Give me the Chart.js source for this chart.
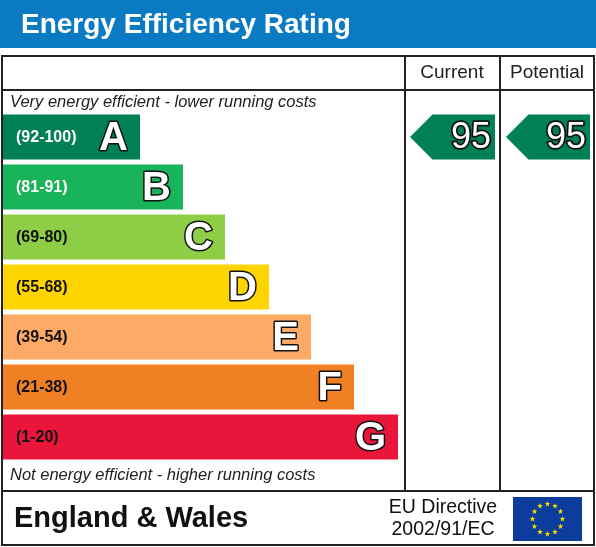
<!DOCTYPE html>
<html>
<head>
<meta charset="utf-8">
<script src="https://cdn.jsdelivr.net/npm/chart.js@4"></script>
<style>
  body { margin: 0; background: #fff; }
  #wrap { width: 596px; height: 547px; position: relative; }
</style>
</head>
<body>
<div id="wrap"><canvas id="epc"></canvas></div>
<script>
// --------------------------------------------------
const bands = ["A", "B", "C", "D", "E", "F", "G"];
const ranges = ["(92-100)", "(81-91)", "(69-80)", "(55-68)", "(39-54)", "(21-38)", "(1-20)"];
const lows = [92, 81, 69, 55, 39, 21, 1];
const barLength = [137, 180, 222, 266, 308, 351, 395];
const colors = ["#008054", "#19b459", "#8dce46", "#ffd500", "#fcaa65", "#ef8023", "#e9153b"];
const labelColors = ["#fff", "#fff", "#111", "#111", "#111", "#111", "#111"];
const currentRating = 95;
const potentialRating = 95;

function bandOf(r) {
  return lows.findIndex((l) => r >= l);
}

function outlined(ctx, text, x, y, font, lw) {
  ctx.font = font;
  ctx.lineJoin = "round";
  ctx.lineWidth = lw;
  ctx.strokeStyle = "#111";
  ctx.strokeText(text, x, y);
  ctx.fillStyle = "#fff";
  ctx.fillText(text, x, y);
}

function arrow(ctx, x0, x1, y, h, color, val) {
  ctx.fillStyle = color;
  ctx.beginPath();
  ctx.moveTo(x0, y);
  ctx.lineTo(x0 + h / 2, y - h / 2);
  ctx.lineTo(x1, y - h / 2);
  ctx.lineTo(x1, y + h / 2);
  ctx.lineTo(x0 + h / 2, y + h / 2);
  ctx.closePath();
  ctx.fill();
  ctx.textAlign = "right";
  ctx.textBaseline = "middle";
  outlined(ctx, String(val), x1 - 4, y + 1, "36px 'Liberation Sans', Arial, sans-serif", 3.5);
}

// --------------------------------------------------
const frame = {
  id: "frame",
  afterDraw(chart) {
    const ctx = chart.ctx;
    const ys = chart.scales.y;
    const xs = chart.scales.x;
    ctx.save();
    // title bar
    ctx.fillStyle = "#0a7ac2";
    ctx.fillRect(0, 0, 596, 48);
    ctx.fillStyle = "#fff";
    ctx.font = "bold 28px 'Liberation Sans', Arial, sans-serif";
    ctx.textBaseline = "middle";
    ctx.fillText("Energy Efficiency Rating", 21, 25);

    // grid lines
    ctx.strokeStyle = "#222";
    ctx.lineWidth = 2;
    ctx.strokeRect(2, 56, 592, 489);
    ctx.beginPath();
    ctx.moveTo(2, 90); ctx.lineTo(594, 90);
    ctx.moveTo(2, 491); ctx.lineTo(594, 491);
    ctx.moveTo(405, 56); ctx.lineTo(405, 491);
    ctx.moveTo(500, 56); ctx.lineTo(500, 491);
    ctx.stroke();

    ctx.fillStyle = "#222";
    ctx.font = "19px 'Liberation Sans', Arial, sans-serif";
    ctx.textAlign = "center";
    ctx.fillText("Current", 452, 73);
    ctx.fillText("Potential", 547, 73);

    ctx.textAlign = "left";
    ctx.font = "italic 16.5px 'Liberation Sans', Arial, sans-serif";
    ctx.fillText("Very energy efficient - lower running costs", 10, 102);
    ctx.fillText("Not energy efficient - higher running costs", 10, 475);

    // band labels and letters
    bands.forEach((b, i) => {
      const y = ys.getPixelForValue(i);
      ctx.textAlign = "left";
      ctx.fillStyle = labelColors[i];
      ctx.font = "bold 16px 'Liberation Sans', Arial, sans-serif";
      ctx.fillText(ranges[i], 16, y + 1);
      ctx.textAlign = "right";
      outlined(ctx, b, xs.getPixelForValue(barLength[i]) - 12, y + 2,
        "bold 40px 'Liberation Sans', Arial, sans-serif", 3);
    });

    // rating arrows
    const ci = bandOf(currentRating);
    const pi = bandOf(potentialRating);
    arrow(ctx, 410, 495, ys.getPixelForValue(ci), 45, colors[ci], currentRating);
    arrow(ctx, 506, 590, ys.getPixelForValue(pi), 45, colors[pi], potentialRating);

    // footer
    ctx.textAlign = "left";
    ctx.fillStyle = "#111";
    ctx.font = "bold 29px 'Liberation Sans', Arial, sans-serif";
    ctx.fillText("England & Wales", 14, 519);
    ctx.textAlign = "center";
    ctx.font = "19.5px 'Liberation Sans', Arial, sans-serif";
    ctx.fillText("EU Directive", 443, 508);
    ctx.fillText("2002/91/EC", 443, 530);

    ctx.fillStyle = "#0c3c9c";
    ctx.fillRect(513, 497, 69, 44);
    ctx.fillStyle = "#ffdd00";
    for (let k = 0; k < 12; k++) {
      const a = (k / 12) * Math.PI * 2;
      const sx = 547.5 + Math.cos(a) * 15;
      const sy = 519 + Math.sin(a) * 15;
      ctx.beginPath();
      for (let p = 0; p < 10; p++) {
        const rr = p % 2 ? 1.2 : 3;
        const aa = -Math.PI / 2 + (p * Math.PI) / 5;
        ctx.lineTo(sx + Math.cos(aa) * rr, sy + Math.sin(aa) * rr);
      }
      ctx.fill();
    }
    ctx.restore();
  },
};

// --------------------------------------------------
new Chart(document.getElementById("epc"), {
  type: "bar",
  data: {
    labels: bands,
    datasets: [
      {
        data: barLength,
        backgroundColor: colors,
        borderWidth: 0,
        categoryPercentage: 0.9,
        barPercentage: 1,
      },
    ],
  },
  options: {
    indexAxis: "y",
    responsive: true,
    maintainAspectRatio: false,
    animation: false,
    layout: { padding: { left: 3, right: 191, top: 112, bottom: 85 } },
    plugins: { legend: { display: false }, tooltip: { enabled: false } },
    scales: {
      x: { display: false, min: 0, max: 402 },
      y: { display: false },
    },
  },
  plugins: [frame],
});
</script>
</body>
</html>
